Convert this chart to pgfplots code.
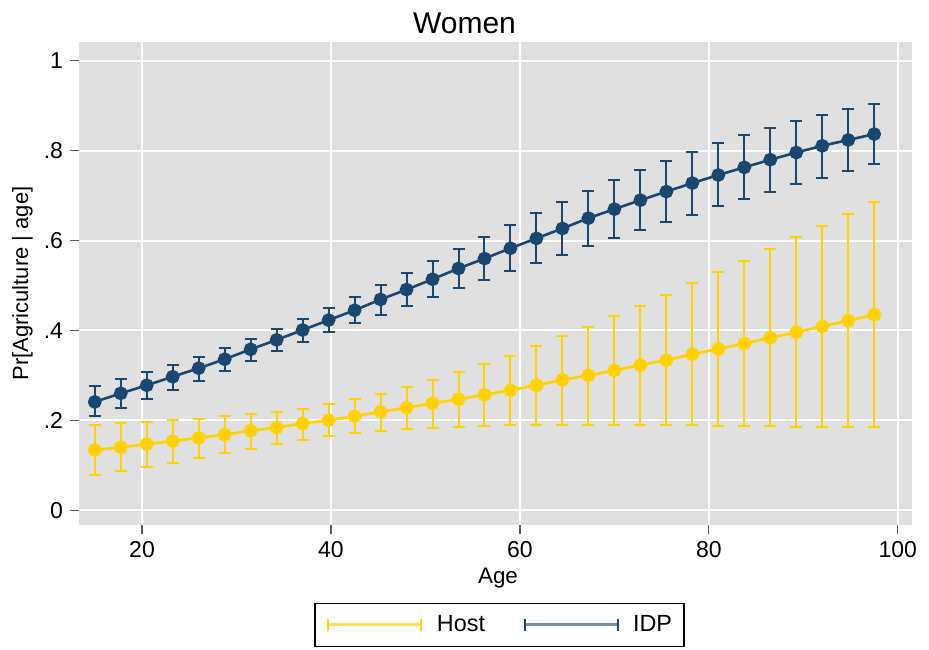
\documentclass[border=0pt]{standalone}
\usepackage{pgfplots}
\pgfplotsset{compat=1.18}
\usepackage{pgfplotstable}
\usepackage{fontspec}
\setmainfont{Liberation Sans}
\definecolor{navy}{RGB}{26,71,111}
\definecolor{gold}{RGB}{255,210,0}
\definecolor{plotbg}{RGB}{224,224,224}

\pgfplotstableread{
x y lo hi
15 0.134 0.078 0.189
17.75 0.140 0.088 0.193
20.5 0.147 0.096 0.197
23.25 0.154 0.106 0.200
26 0.161 0.117 0.204
28.75 0.168 0.128 0.209
31.5 0.177 0.137 0.215
34.25 0.184 0.148 0.219
37 0.193 0.157 0.226
39.75 0.200 0.165 0.236
42.5 0.209 0.172 0.247
45.25 0.219 0.177 0.258
48 0.228 0.180 0.274
50.75 0.238 0.183 0.290
53.5 0.247 0.186 0.307
56.25 0.257 0.188 0.325
59 0.267 0.189 0.344
61.75 0.278 0.190 0.365
64.5 0.290 0.190 0.387
67.25 0.300 0.190 0.408
70 0.311 0.190 0.432
72.75 0.323 0.190 0.455
75.5 0.334 0.189 0.480
78.25 0.347 0.189 0.506
81 0.359 0.188 0.529
83.75 0.371 0.187 0.555
86.5 0.384 0.187 0.581
89.25 0.396 0.186 0.607
92 0.409 0.186 0.633
94.75 0.422 0.186 0.660
97.5 0.435 0.186 0.685
}\host

\pgfplotstableread{
x y lo hi
15 0.241 0.209 0.276
17.75 0.260 0.227 0.291
20.5 0.278 0.247 0.307
23.25 0.297 0.267 0.324
26 0.316 0.288 0.342
28.75 0.336 0.310 0.362
31.5 0.358 0.332 0.381
34.25 0.379 0.354 0.403
37 0.401 0.375 0.425
39.75 0.423 0.396 0.449
42.5 0.445 0.416 0.475
45.25 0.469 0.434 0.501
48 0.491 0.454 0.528
50.75 0.514 0.474 0.555
53.5 0.538 0.494 0.581
56.25 0.560 0.512 0.609
59 0.583 0.532 0.635
61.75 0.605 0.550 0.661
64.5 0.627 0.569 0.685
67.25 0.650 0.588 0.710
70 0.670 0.606 0.735
72.75 0.690 0.624 0.756
75.5 0.709 0.641 0.777
78.25 0.728 0.658 0.798
81 0.746 0.676 0.817
83.75 0.763 0.693 0.834
86.5 0.780 0.709 0.850
89.25 0.796 0.725 0.866
92 0.811 0.740 0.880
94.75 0.824 0.755 0.892
97.5 0.837 0.770 0.904
}\idp

\begin{document}
\begin{tikzpicture}
\begin{axis}[
  name=ax,
  scale only axis,
  width=416.5bp, height=241.5bp,
  xmin=13.33, xmax=101.5,
  ymin=-0.033, ymax=1.042,
  axis background/.style={fill=plotbg},
  axis line style={draw=none},
  grid=major,
  major grid style={white, line width=1bp},
  xtick={20,40,60,80,100},
  ytick={0,0.2,0.4,0.6,0.8,1},
  yticklabels={0,.2,.4,.6,.8,1},
  tick align=outside,
  xtick pos=bottom, ytick pos=left,
  major tick length=4.5bp,
  tick style={black!65, line width=0.6bp},
  /pgf/number format/assume math mode=true,
  ticklabel style={font=\fontsize{11.5bp}{13.5bp}\selectfont},
  legend style={at={(0.5048,-0.207)}, anchor=center, draw=black, line width=0.6bp,
    font=\fontsize{11.7bp}{14bp}\selectfont, inner xsep=6bp, inner ysep=6bp,
    nodes={inner sep=0pt},
    /tikz/every odd column/.append style={column sep=7bp},
    /tikz/every even column/.append style={column sep=19bp}},
  legend columns=2,
]
\addplot[color=gold, line width=1.3bp, mark=*, mark size=2.8bp,
  mark options={fill=gold, draw=gold},
  legend image code/.code={
    \draw[gold!70!white, line width=1.5bp] (0bp,0bp)--(46.5bp,0bp);
    \draw[gold, line width=1bp] (0bp,-2.9bp)--(0bp,2.9bp);
    \draw[gold, line width=1bp] (46.5bp,-2.9bp)--(46.5bp,2.9bp);},
  error bars/.cd, y dir=both, y explicit,
  error bar style={line width=1bp, gold},
  error mark options={rotate=90, mark size=3bp, line width=1bp, gold}]
  table[x=x, y=y, y error plus expr=\thisrow{hi}-\thisrow{y}, y error minus expr=\thisrow{y}-\thisrow{lo}] {\host};
\addlegendentry{Host}
\addplot[color=navy, line width=1.3bp, mark=*, mark size=2.8bp,
  mark options={fill=navy, draw=navy},
  legend image code/.code={
    \draw[navy!60!white, line width=1.5bp] (0bp,0bp)--(46.5bp,0bp);
    \draw[navy, line width=1bp] (0bp,-2.9bp)--(0bp,2.9bp);
    \draw[navy, line width=1bp] (46.5bp,-2.9bp)--(46.5bp,2.9bp);},
  error bars/.cd, y dir=both, y explicit,
  error bar style={line width=1bp, navy},
  error mark options={rotate=90, mark size=3bp, line width=1bp, navy}]
  table[x=x, y=y, y error plus expr=\thisrow{hi}-\thisrow{y}, y error minus expr=\thisrow{y}-\thisrow{lo}] {\idp};
\addlegendentry{IDP}
\end{axis}
\node[font=\fontsize{15bp}{18bp}\selectfont] at ([xshift=-15.5bp, yshift=9.35bp]ax.north) {Women};
\node[rotate=90, font=\fontsize{11bp}{13bp}\selectfont] at ([xshift=-28.25bp]ax.west) {Pr[Agriculture | age]};
\node[font=\fontsize{11.2bp}{13bp}\selectfont] at ([xshift=1.25bp, yshift=-26.5bp]ax.south) {Age};
\pgfresetboundingbox
\path[use as bounding box] ([xshift=-39.5bp,yshift=-62.5bp]ax.south west) rectangle ([xshift=8.5bp,yshift=21bp]ax.north east);
\end{tikzpicture}
\end{document}
